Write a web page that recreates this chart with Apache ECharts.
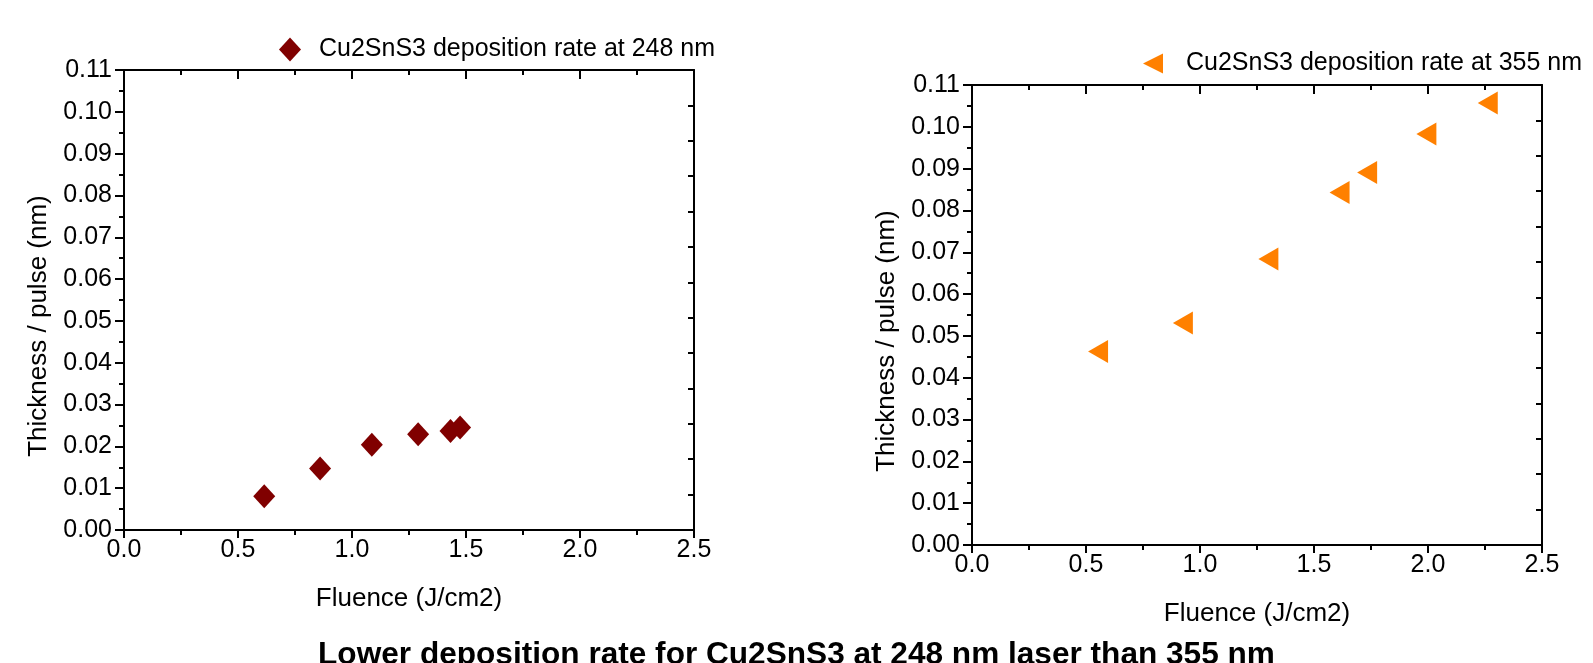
<!DOCTYPE html>
<html>
<head>
<meta charset="utf-8">
<script src="https://cdn.jsdelivr.net/npm/echarts@6/dist/echarts.min.js"></script>
<style>
html,body{margin:0;padding:0;background:#fff;}
#chart{width:1593px;height:663px;}
</style>
</head>
<body>
<div id="chart"></div>
<script>
// ---- data ----
const fluence248 = [0.615, 0.860, 1.087, 1.290, 1.432, 1.474];
const thick248   = [0.0081, 0.0147, 0.0204, 0.0229, 0.0237, 0.0245];
const fluence355 = [0.553, 0.925, 1.300, 1.612, 1.733, 1.993, 2.262];
const thick355   = [0.0463, 0.0531, 0.0684, 0.0843, 0.0891, 0.0983, 0.1057];
const seriesNames = ['Cu2SnS3 deposition rate at 248 nm', 'Cu2SnS3 deposition rate at 355 nm'];
const xName = 'Fluence (J/cm2)';
const yName = 'Thickness / pulse (nm)';
const chartTitle = 'Lower deposition rate for Cu2SnS3 at 248 nm laser than 355 nm';
const xRange = [0, 2.5], xStep = 0.5;
const yRange = [0, 0.11], yStep = 0.01;
const mirrorYDivisions = 13;

const FONT = "'Liberation Sans', Arial, sans-serif";
const BLACK = '#000';
const tickFont = 25;

function bottomX(gridIndex) {
  return {
    type: 'value', gridIndex, position: 'bottom',
    min: xRange[0], max: xRange[1], interval: xStep,
    name: xName, nameLocation: 'middle', nameGap: 56,
    nameTextStyle: {fontFamily: FONT, fontSize: 26, color: BLACK},
    axisLine: {show: true, onZero: false, lineStyle: {color: BLACK, width: 2}},
    axisTick: {show: true, inside: false, length: 8, lineStyle: {color: BLACK, width: 2}},
    minorTick: {show: true, splitNumber: 2, length: 5, lineStyle: {color: BLACK, width: 2}},
    axisLabel: {fontFamily: FONT, fontSize: tickFont, color: BLACK, margin: 8,
      formatter: v => v.toFixed(1)},
    splitLine: {show: false}
  };
}
function topX(gridIndex) {
  return {
    type: 'value', gridIndex, position: 'top',
    min: xRange[0], max: xRange[1], interval: xStep,
    axisLine: {show: true, onZero: false, lineStyle: {color: BLACK, width: 2}},
    axisTick: {show: true, inside: true, length: 9, lineStyle: {color: BLACK, width: 2}},
    minorTick: {show: true, splitNumber: 2, length: 5, lineStyle: {color: BLACK, width: 2}},
    axisLabel: {show: false},
    splitLine: {show: false}
  };
}
function leftY(gridIndex) {
  return {
    type: 'value', gridIndex, position: 'left',
    min: yRange[0], max: yRange[1], interval: yStep,
    name: yName, nameLocation: 'middle', nameGap: 72,
    nameTextStyle: {fontFamily: FONT, fontSize: 26, color: BLACK, padding: [0, 52, 0, 0]},
    axisLine: {show: true, onZero: false, lineStyle: {color: BLACK, width: 2}},
    axisTick: {show: true, inside: false, length: 9, lineStyle: {color: BLACK, width: 2}},
    minorTick: {show: true, splitNumber: 2, length: 5, lineStyle: {color: BLACK, width: 2}},
    axisLabel: {fontFamily: FONT, fontSize: tickFont, color: BLACK, margin: 12,
      formatter: v => v.toFixed(2)},
    splitLine: {show: false}
  };
}
function rightY(gridIndex) {
  return {
    type: 'value', gridIndex, position: 'right',
    min: 0, max: mirrorYDivisions, interval: 1,
    axisLine: {show: true, onZero: false, lineStyle: {color: BLACK, width: 2}},
    axisTick: {show: true, inside: true, length: 6, lineStyle: {color: BLACK, width: 2}},
    axisLabel: {show: false},
    splitLine: {show: false}
  };
}

const triPath = 'path://M0,10 L20,0 L20,20 Z';

const option = {
  animation: false,
  backgroundColor: '#fff',
  textStyle: {fontFamily: FONT},
  title: {
    text: chartTitle, left: 'center', top: 634,
    textStyle: {fontFamily: FONT, fontSize: 31.6, fontWeight: 'bold', color: BLACK}
  },
  legend: [
    {
      data: [seriesNames[0]], left: 279, top: 37, padding: 0,
      icon: 'diamond', itemWidth: 22, itemHeight: 24, itemGap: 0,
      textStyle: {fontFamily: FONT, fontSize: 25, color: BLACK, padding: [0, 0, 0, 13]}
    },
    {
      data: [seriesNames[1]], left: 1143, top: 51, padding: 0,
      icon: triPath, itemWidth: 20, itemHeight: 23, itemGap: 0,
      textStyle: {fontFamily: FONT, fontSize: 25, color: BLACK, padding: [0, 0, 0, 18]}
    }
  ],
  grid: [
    {left: 124, top: 70, width: 570, height: 460},
    {left: 972, top: 85, width: 570, height: 460}
  ],
  xAxis: [bottomX(0), topX(0), bottomX(1), topX(1)],
  yAxis: [leftY(0), rightY(0), leftY(1), rightY(1)],
  series: [
    {
      name: seriesNames[0], type: 'scatter', xAxisIndex: 0, yAxisIndex: 0,
      symbol: 'diamond', symbolSize: [22, 24],
      itemStyle: {color: '#800000', opacity: 1},
      data: fluence248.map((x, i) => [x, thick248[i]])
    },
    {
      name: seriesNames[1], type: 'scatter', xAxisIndex: 2, yAxisIndex: 2,
      symbol: triPath, symbolSize: [20, 23],
      itemStyle: {color: '#FF8000', opacity: 1},
      data: fluence355.map((x, i) => [x, thick355[i]])
    }
  ]
};

const chart = echarts.init(document.getElementById('chart'), null, {renderer: 'canvas'});
chart.setOption(option);
</script>
</body>
</html>
